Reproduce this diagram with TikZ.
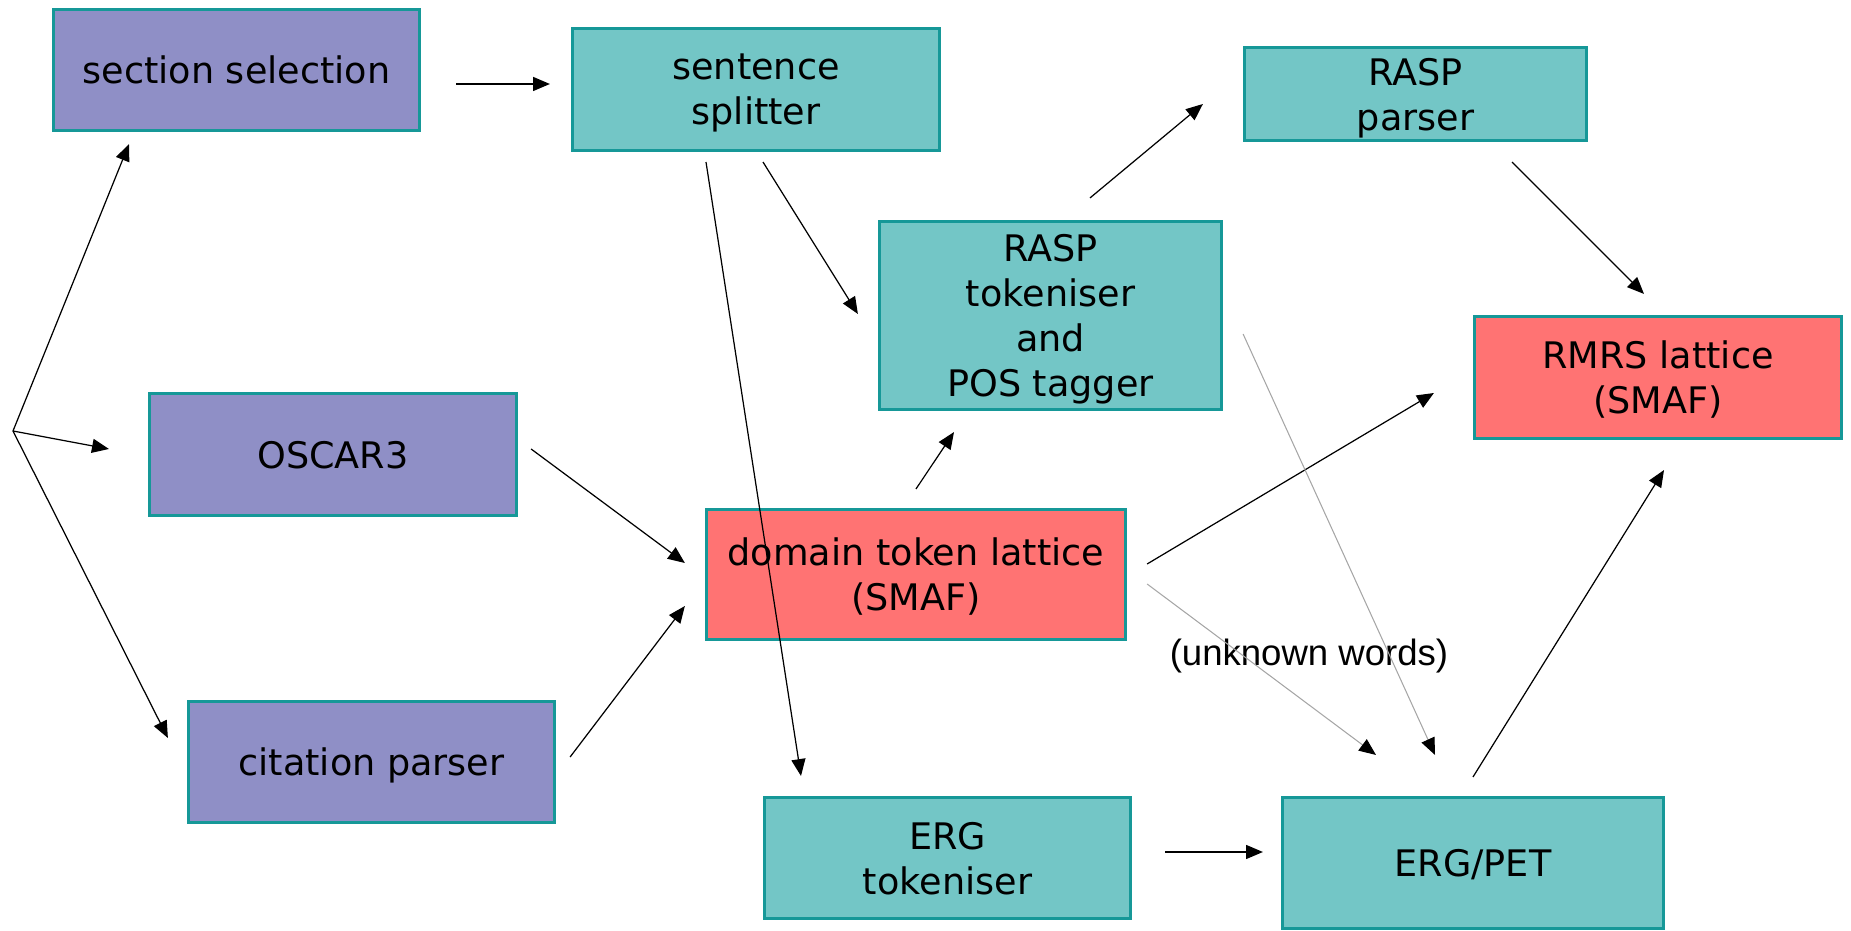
\documentclass[tikz,border=0pt]{standalone}
\usepackage{fontspec}
\setmainfont{DejaVu Sans}
\newfontfamily\labelfont{Liberation Sans}
\usetikzlibrary{calc}
\usetikzlibrary{arrows.meta}
\definecolor{boxpurple}{RGB}{143,143,198}
\definecolor{boxteal}{RGB}{115,198,198}
\definecolor{boxred}{RGB}{255,115,115}
\definecolor{boxedge}{RGB}{22,152,152}
\tikzset{>={Triangle[length=4.8pt,width=4pt]}}
\tikzset{stage/.style={draw=boxedge,line width=0.85pt,align=center,inner sep=0pt,text depth=0pt,
		font=\fontsize{10.4}{12.8}\selectfont},
	source/.style={stage,fill=boxpurple},
	tool/.style={stage,fill=boxteal},
	lattice/.style={stage,fill=boxred},
	flow/.style={->,line width=0.35pt},
	weakflow/.style={-{Triangle[length=4.8pt,width=4pt,color=black]},line width=0.3pt,draw=black!35}}

\begin{document}
\begin{tikzpicture}[x=0.01cm,y=-0.01cm]
			\useasboundingbox (0,0) rectangle (1851,931);
			% input side
			\node[source,minimum width=3.66cm,minimum height=1.21cm] (sect) at (236.5,70) {section selection};
			\node[source,minimum width=3.67cm,minimum height=1.22cm] (oscar) at (333,454.5) {OSCAR3};
			\node[source,minimum width=3.66cm,minimum height=1.21cm] (cit) at (371.5,762) {citation parser};
			\coordinate (split) at (13,431);
			% processing
			\node[tool,minimum width=3.67cm,minimum height=1.22cm] (sent) at (756,89.5) {sentence\\splitter};
			\node[tool,minimum width=3.42cm,minimum height=1.88cm] (rtok) at (1050.5,315.5) {RASP\\tokeniser\\and\\POS tagger};
			\node[tool,minimum width=3.42cm,minimum height=0.93cm] (rparse) at (1415.5,94) {RASP\\parser};
			\node[lattice,minimum width=4.19cm,minimum height=1.30cm] (dom) at (916,574.5) {domain token lattice\\(SMAF)};
			\node[lattice,minimum width=3.67cm,minimum height=1.22cm] (rmrs) at (1658,377.5) {RMRS lattice\\(SMAF)};
			\node[tool,minimum width=3.66cm,minimum height=1.21cm] (etok) at (947.5,858) {ERG\\tokeniser};
			\node[tool,minimum width=3.81cm,minimum height=1.31cm] (pet) at (1473,863) {ERG/PET};
			\node[font=\labelfont\fontsize{10.4}{12.8}\selectfont] (unk) at (1309,656) {(unknown words)};
			% connectors
			\draw[flow] (split) -- ($(sect.south)+(-107.5,12)$);
			\draw[flow] (split) -- ($(oscar.west)+(-39,-5.5)$);
			\draw[flow] (split) -- ($(cit.west)+(-19,-24)$);
			\draw[flow] ($(sect.east)+(35,14)$) -- ($(sent.west)+(-21,-5.5)$);
			\draw[flow] ($(sent.south)+(7,10)$) -- ($(rtok.west)+(-20,-1.5)$);
			\draw[flow] ($(sent.south)+(-50,10)$) -- ($(etok.north)+(-146.5,-20)$);
			\draw[flow] ($(rtok.north)+(39.5,-22)$) -- ($(rparse.west)+(-40,10)$);
			\draw[flow] ($(rparse.south)+(96.5,20)$) -- ($(rmrs.north)+(-14,-21)$);
			\draw[flow] ($(oscar.east)+(13,-5.5)$) -- ($(dom.west)+(-20,-11.5)$);
			\draw[flow] ($(cit.east)+(14,-5)$) -- ($(dom.west)+(-20,31.5)$);
			\draw[flow] ($(dom.north)+(0,-19)$) -- ($(rtok.south)+(-96.5,21)$);
			\draw[flow] ($(dom.east)+(20,-10.5)$) -- ($(rmrs.west)+(-39,15.5)$);
			\draw[weakflow] ($(dom.east)+(20,9.5)$) -- ($(pet.north)+(-97,-41)$);
			\draw[weakflow] ($(rtok.east)+(20,18.5)$) -- ($(pet.north)+(-38,-41)$);
			\draw[flow] ($(etok.east)+(33,-6)$) -- ($(pet.west)+(-18,-11)$);
			\draw[flow] ($(pet.north)+(0,-19)$) -- ($(rmrs.south)+(6,30)$);
		\end{tikzpicture}
\end{document}
